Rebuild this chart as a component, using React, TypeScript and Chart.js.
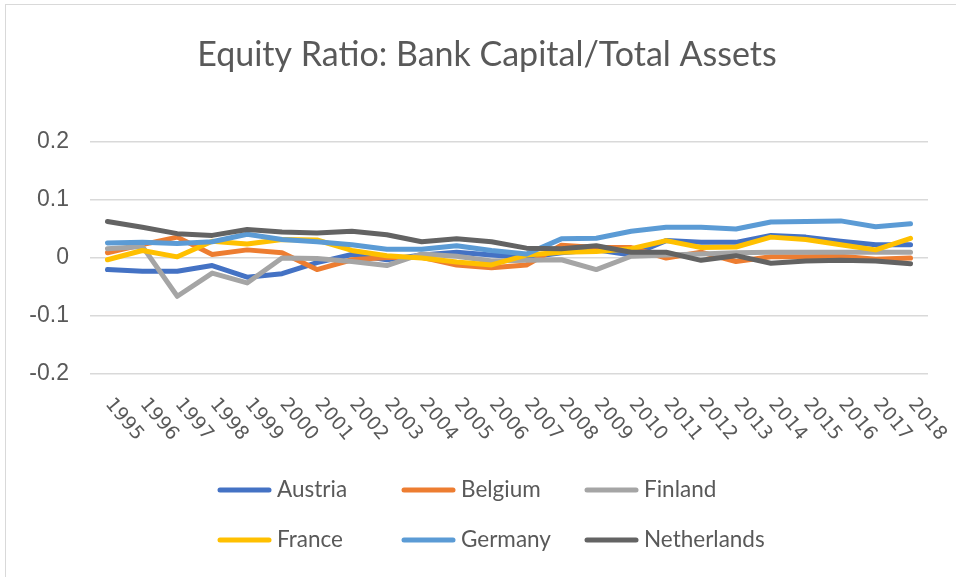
import React, { useEffect, useRef } from "react";
import { Chart, registerables } from "chart.js";

Chart.register(...registerables);

const years = ["1995","1996","1997","1998","1999","2000","2001","2002","2003","2004","2005","2006","2007","2008","2009","2010","2011","2012","2013","2014","2015","2016","2017","2018"];

const austria = [-0.020, -0.023, -0.023, -0.013, -0.033, -0.027, -0.008, 0.006, -0.003, 0.005, 0.010, 0.005, 0.001, 0.009, 0.014, 0.005, 0.030, 0.027, 0.027, 0.039, 0.036, 0.029, 0.023, 0.023];
const belgium = [0.009, 0.023, 0.036, 0.006, 0.014, 0.009, -0.020, -0.003, 0.001, 0.001, -0.012, -0.017, -0.012, 0.022, 0.018, 0.018, 0.000, 0.010, -0.006, 0.002, 0.002, 0.003, -0.002, 0.000];
const finland = [0.016, 0.020, -0.066, -0.026, -0.043, 0.000, -0.001, -0.006, -0.013, 0.007, 0.003, -0.005, -0.004, -0.003, -0.020, 0.003, 0.005, 0.007, 0.009, 0.010, 0.010, 0.010, 0.010, 0.010];
const france = [-0.003, 0.013, 0.002, 0.029, 0.024, 0.032, 0.031, 0.013, 0.004, 0.000, -0.007, -0.012, 0.005, 0.010, 0.011, 0.016, 0.030, 0.018, 0.019, 0.036, 0.032, 0.023, 0.014, 0.034];
const germany = [0.026, 0.027, 0.025, 0.028, 0.041, 0.032, 0.028, 0.023, 0.015, 0.015, 0.021, 0.013, 0.007, 0.033, 0.034, 0.046, 0.053, 0.053, 0.050, 0.062, 0.063, 0.064, 0.054, 0.059];
const netherlands = [0.063, 0.053, 0.042, 0.039, 0.049, 0.045, 0.043, 0.046, 0.040, 0.028, 0.033, 0.028, 0.017, 0.016, 0.021, 0.010, 0.010, -0.004, 0.004, -0.009, -0.005, -0.004, -0.005, -0.010];

const seriesNames = ["Austria", "Belgium", "Finland", "France", "Germany", "Netherlands"];
const seriesValues = [austria, belgium, finland, france, germany, netherlands];
const seriesColors = ["#4472C4", "#ED7D31", "#A5A5A5", "#FFC000", "#5B9BD5", "#636363"];

const titleText = "Equity Ratio: Bank Capital/Total Assets";
const TEXT_COLOR = "#595959";

const customPlugin = {
  id: "customLabels",
  afterDraw(chart: any) {
    const ctx = chart.ctx;
    const xs = chart.scales.x;
    const area = chart.chartArea;
    ctx.save();
    // title
    ctx.font = '34px Lato';
    ctx.fillStyle = TEXT_COLOR;
    ctx.textAlign = "center";
    ctx.textBaseline = "middle";
    ctx.fillText(titleText, 487, 55);
    // rotated category labels
    ctx.font = '19px "DejaVu Sans"';
    ctx.textAlign = "left";
    ctx.textBaseline = "middle";
    chart.data.labels.forEach((lab: string, i: number) => {
      const px = xs.getPixelForValue(i);
      ctx.save();
      ctx.translate(px + 1, area.bottom + 27);
      ctx.rotate((50 * Math.PI) / 180);
      ctx.fillText(lab, 0, 0);
      ctx.restore();
    });
    // legend (3 columns x 2 rows)
    const colX = [218, 402, 585];
    const rowY = [490, 540];
    ctx.font = '22.5px Lato';
    chart.data.datasets.forEach((ds: any, i: number) => {
      const cx = colX[i % 3];
      const cy = rowY[Math.floor(i / 3)];
      ctx.strokeStyle = ds.borderColor;
      ctx.lineWidth = 5;
      ctx.lineCap = "round";
      ctx.beginPath();
      ctx.moveTo(cx + 2, cy);
      ctx.lineTo(cx + 51, cy);
      ctx.stroke();
      ctx.fillStyle = TEXT_COLOR;
      ctx.textAlign = "left";
      ctx.textBaseline = "middle";
      ctx.fillText(ds.label, cx + 59, cy);
    });
    ctx.restore();
  },
};

export default function App() {
  const ref = useRef<HTMLCanvasElement | null>(null);
  useEffect(() => {
    if (!ref.current) return;
    const chart = new Chart(ref.current, {
      type: "line",
      data: {
        labels: years,
        datasets: seriesNames.map((name, i) => ({
          label: name,
          data: seriesValues[i],
          borderColor: seriesColors[i],
          backgroundColor: seriesColors[i],
          borderWidth: 5,
          pointRadius: 0,
          borderCapStyle: "round",
          borderJoinStyle: "round",
          tension: 0,
          order: seriesNames.length - i,
        })),
      },
      options: {
        responsive: false,
        animation: false,
        layout: { padding: { left: 0, right: 28, top: 142, bottom: 0 } },
        plugins: {
          legend: { display: false },
          tooltip: { enabled: false },
          title: { display: false },
        },
        scales: {
          x: {
            type: "category",
            offset: true,
            grid: { display: false, drawTicks: false },
            border: { display: false },
            ticks: { display: false },
            afterFit: (s: any) => {
              s.height = 203;
            },
          },
          y: {
            min: -0.2,
            max: 0.2,
            grid: { color: "#d9d9d9", lineWidth: 1.5, drawTicks: false },
            border: { display: false },
            ticks: {
              stepSize: 0.1,
              padding: 21,
              color: TEXT_COLOR,
              font: { family: "Liberation Sans", size: 23 },
              callback: (v: any) => String(Number(Number(v).toFixed(1))),
            },
            afterFit: (s: any) => {
              s.width = 90;
            },
          },
        },
      },
      plugins: [customPlugin],
    });
    return () => chart.destroy();
  }, []);

  return (
    <div style={{ position: "fixed", left: 0, top: 0, width: 956, height: 577, overflow: "hidden", background: "#fff" }}>
      <div style={{ position: "absolute", left: 5, top: 4, width: 2000, height: 2000, border: "1px solid #d9d9d9" }} />
      <canvas ref={ref} width={956} height={577} style={{ position: "absolute", left: 0, top: 0 }} />
    </div>
  );
}
